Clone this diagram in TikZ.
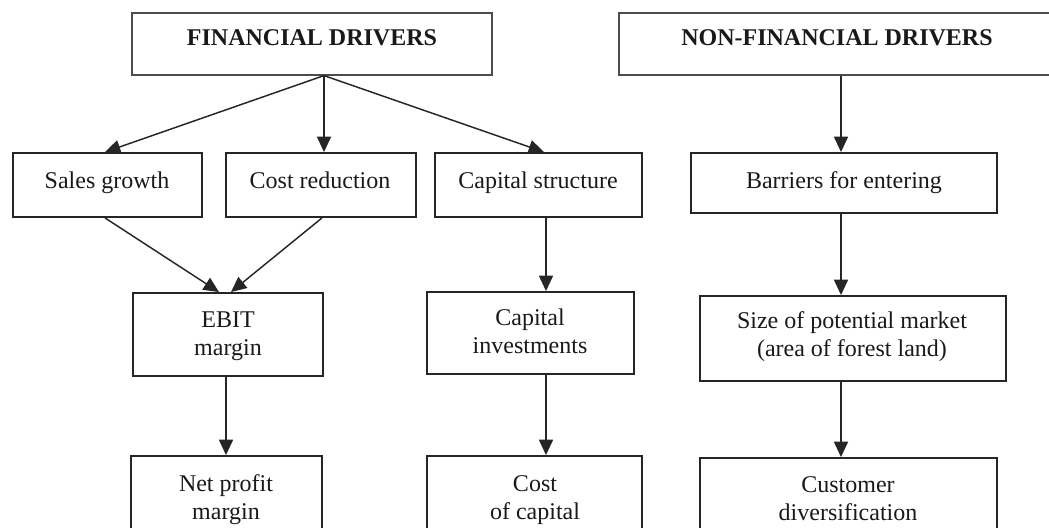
\documentclass[tikz,border=0pt]{standalone}
\usepackage{fontspec}
\setmainfont{Liberation Serif}
\usetikzlibrary{arrows.meta,fit,calc}
\begin{document}
\begin{tikzpicture}[x=0.75pt,y=-0.75pt,
  box/.style={draw=black!85, line width=1.4pt, inner sep=0pt},
  headbox/.style={draw=black!70, line width=0.9pt, inner sep=0pt},
  txt/.style={font=\fontsize{18}{21}\selectfont, align=center, inner sep=0pt, text=black!90, anchor=base},
  htxt/.style={font=\fontsize{18}{21}\selectfont\bfseries, inner sep=0pt, text=black!90, anchor=base},
  arr/.style={draw=black!85, line width=1.1pt, -{Triangle[length=11.5pt,width=10.5pt]}}]
\useasboundingbox (0,0) rectangle (1049,528);
\clip (0,0) rectangle (1049,528);
% boxes
\node[headbox, fit={(132,13)(492,75)}] (fd) {};
\node[headbox, fit={(619,13)(1070,75)}] (nfd) {};
\node[box, fit={(13,153)(202,217)}] (sg) {};
\node[box, fit={(226,153)(416,217)}] (cr) {};
\node[box, fit={(435,153)(642,217)}] (cs) {};
\node[box, fit={(691,153)(997,213)}] (be) {};
\node[box, fit={(133,293)(323,376)}] (eb) {};
\node[box, fit={(427,292)(634,374)}] (ci) {};
\node[box, fit={(700,296)(1006,381)}] (sm) {};
\node[box, fit={(131,456)(322,570)}] (np) {};
\node[box, fit={(427,456)(642,570)}] (cc) {};
\node[box, fit={(700,458)(997,570)}] (cd) {};
% texts (base anchor = baseline of last line)
\node[htxt] (tfd) at (312,46) {FINANCIAL DRIVERS};
\node[htxt] (tnfd) at (837,46) {NON-FINANCIAL DRIVERS};
\node[txt] (tsg) at (107,188) {Sales growth};
\node[txt] (tcr) at (320,188) {Cost reduction};
\node[txt] (tcs) at (538,188) {Capital structure};
\node[txt] (tbe) at (844,188) {Barriers for entering};
\node[txt] (teb) at (228,355) {EBIT\\margin};
\node[txt] (tci) at (530,353) {Capital\\investments};
\node[txt] (tsm) at (852,356) {Size of potential market\\(area of forest land)};
\node[txt] (tnp) at (226,519) {Net profit\\margin};
\node[txt] (tcc) at (535,519) {Cost\\of capital};
\node[txt] (tcd) at (848,520) {Customer\\diversification};
% connectors
\coordinate (fdo) at ($(fd.south)+(12,0)$);
\draw[arr] (fdo) -- (sg.north -| 105,0);
\draw[arr] (fdo) -- (cr.north -| 324,0);
\draw[arr] (fdo) -- (cs.north -| 544,0);
\draw[arr] (sg.south -| 105,0) -- (eb.north -| 219,0);
\draw[arr] (cr.south -| 322,0) -- (eb.north -| 231,0);
\draw[arr] (eb.south -| 226,0) -- (np.north -| 226,0);
\draw[arr] (cs.south -| 546,0) -- (ci.north -| 546,0);
\draw[arr] (ci.south -| 546,0) -- (cc.north -| 546,0);
\draw[arr] (nfd.south -| 841,0) -- (be.north -| 841,0);
\draw[arr] (be.south -| 841,0) -- (sm.north -| 841,0);
\draw[arr] (sm.south -| 841,0) -- (cd.north -| 841,0);
\end{tikzpicture}
\end{document}
